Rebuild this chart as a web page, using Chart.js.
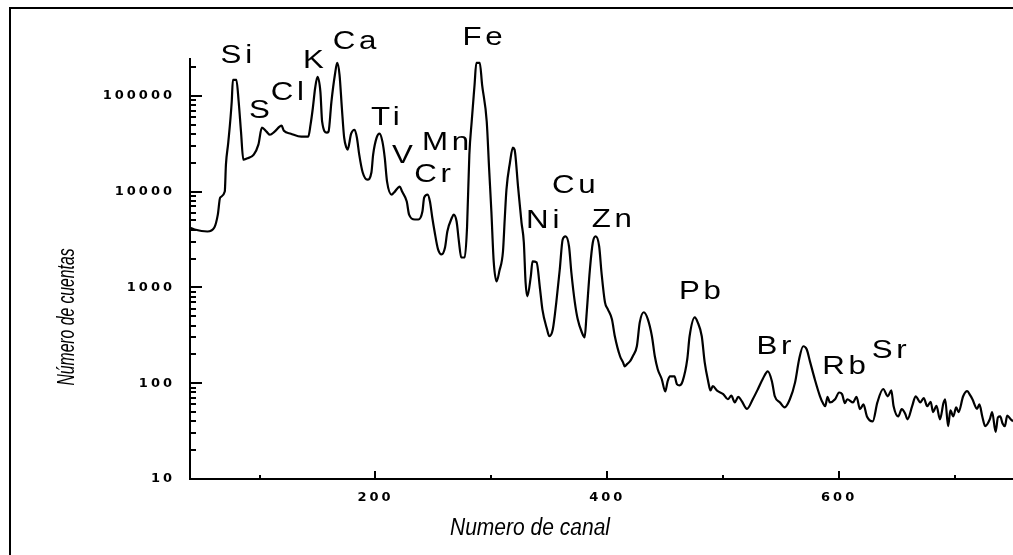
<!DOCTYPE html>
<html>
<head>
<meta charset="utf-8">
<script src="https://cdn.jsdelivr.net/npm/chart.js@4.4.1/dist/chart.umd.min.js"></script>
<style>
  html, body { margin: 0; padding: 0; background: #fff; overflow: hidden; }
  #wrap { width: 1013px; height: 555px; }
</style>
</head>
<body>
<div id="wrap"><canvas id="spectrum" width="1013" height="555"></canvas></div>
<script>
// X-ray spectrum (channel -> counts)
const channels = [
  40, 44, 55, 61, 64, 66, 70, 71, 73, 76, 77, 80, 82, 84, 86, 89, 95, 99, 102, 106,
  109, 113, 119, 121, 127, 136, 142, 144, 146, 148, 150, 152.5, 154, 158, 159.5, 162, 165, 167, 169, 171,
  173, 175, 176, 179, 182, 184, 186, 189, 193, 196.5, 198, 201, 203.5, 206, 208, 210, 214, 216, 221, 223,
  227, 229, 234, 237, 240.5, 242, 245, 247, 249, 251, 254, 257, 260, 262, 266, 267.5, 270, 272, 274, 277,
  279, 281, 283, 285.5, 287, 290, 292, 296, 298, 300, 302, 304.5, 307, 310, 311.5, 313, 316, 318.5, 320, 323,
  326, 328, 329.5, 331, 334, 335.5, 339, 342, 344, 348, 350, 353, 356, 359, 361.5, 364, 367, 369, 372, 374.5,
  378, 380.5, 382, 385, 387.5, 390, 393, 395, 398, 400.5, 404, 406.5, 411, 413.5, 415, 417, 420, 422, 425.5, 428,
  431.5, 435, 438.5, 441, 443.5, 447, 450, 452, 454, 458, 460, 462.5, 465, 469, 471, 475.5, 478, 481.5, 484, 487,
  489, 491, 495, 500, 504, 507, 510, 513, 516, 520.5, 525.5, 530, 534, 538.5, 542, 544.5, 549, 553, 557.5, 562,
  565.5, 569, 572, 575, 579, 583.5, 586, 588, 590, 592, 596.5, 600, 602.5, 605, 607, 612, 615, 618, 621, 624,
  629, 633, 638, 642, 645, 647, 651, 654, 657, 659, 663, 666, 670, 673, 676, 679, 681, 684, 687, 690,
  691.5, 694, 696, 698.5, 701, 703, 707, 710.5, 713, 715, 719, 721, 723.5, 726, 730, 732, 735, 737, 739, 741,
  743, 745, 748, 750
];
const counts = [
  4200, 4020, 3830, 4220, 5750, 8660, 10000, 19100, 32400, 86600, 146800, 146800, 86600, 42200, 21500, 22100, 24300, 30900, 46400, 42200,
  39200, 42200, 48700, 43100, 40200, 37400, 37400, 49900, 75000, 121200, 157800, 110000, 53600, 41200, 42200, 86600, 165600, 220600, 165600, 75000,
  36500, 28700, 27400, 40200, 44200, 36500, 24300, 15800, 13300, 15800, 24300, 36500, 40200, 33200, 22600, 12700, 9300, 9770, 11270, 10000,
  7870, 5750, 5110, 5110, 6190, 8660, 9300, 7870, 5360, 3830, 2490, 2210, 2610, 3830, 5360, 5750, 4870, 3010, 2050, 2050,
  4220, 24300, 53600, 130300, 220600, 220600, 130300, 53600, 17800, 6190, 1870, 1155, 1500, 2370, 5110, 10500, 20000, 28700, 27400, 11270,
  4750, 2940, 1130, 806, 1300, 1870, 1820, 953, 590, 365, 309, 365, 698, 1540, 3160, 3400, 2670, 1430, 698, 464,
  340, 301, 499, 1540, 2940, 3400, 2670, 1430, 698, 590, 464, 309, 191, 166, 150, 158, 172, 191, 243, 431,
  550, 464, 309, 191, 140, 110, 82, 104, 118, 118, 98, 95, 105, 178, 309, 487, 431, 309, 166, 105,
  84, 93, 83, 77, 68, 74, 63, 72, 65, 54, 68, 87, 110, 133, 105, 73, 63, 56, 68, 102,
  178, 243, 226, 166, 110, 73, 62, 57.5, 72, 63, 68, 80, 77, 62, 68, 63, 72, 53.6, 60, 45,
  40, 63, 87, 73, 84, 57.5, 45, 53.6, 48, 42, 57.5, 73, 63, 70, 57.5, 64, 50, 58, 42, 62,
  68, 35.6, 52, 45, 56, 50, 73, 82.5, 75, 68, 54, 60, 45, 35.6, 42, 50, 31, 44, 45, 38,
  35.6, 46, 42, 40
];

// element labels (channel, counts of the label centre)
const elementNames = ["Si", "S", "Cl", "K", "Ca", "Ti", "V", "Mn", "Cr", "Fe", "Cu", "Ni", "Zn", "Pb", "Br", "Rb", "Sr"];
const elementChannels = [80, 99.8, 124, 146.4, 181.9, 208.6, 223.3, 260.5, 249.2, 292.4, 371.1, 344.3, 403.9, 479.9, 543.8, 604.3, 643.2];
const elementCounts = [261000, 69800, 107500, 231800, 365200, 59000, 23200, 32400, 14700, 401700, 11270, 4870, 4990, 887, 237, 147, 215];

const xTickValues = [100, 200, 300, 400, 500, 600, 700];
const xTicksShown = [200, 400, 600];
const yDecades = [10, 100, 1000, 10000, 100000];
const yTickValues = [];
yDecades.forEach(d => { for (let m = 1; m <= 9; m++) if (d * m <= 242000) yTickValues.push(d * m); });

const xTitle = "Numero de canal";
const yTitle = "Número de cuentas";

const tickFont = { family: "DejaVu Sans", size: 13, weight: "bold" };

// draws frame, inside ticks, titles and element labels
const decorations = {
  id: "decorations",
  beforeDraw(chart) {
    chart.ctx.letterSpacing = "3px";
  },
  afterDraw(chart) {
    const { ctx, chartArea } = chart;
    const xs = chart.scales.x, ys = chart.scales.y;
    ctx.save();
    ctx.strokeStyle = "#000";
    ctx.fillStyle = "#000";

    // outer frame
    ctx.lineWidth = 2;
    ctx.strokeRect(10, 8, 1200, 800);

    // inside ticks
    yTickValues.forEach(v => {
      const p = Math.round(ys.getPixelForValue(v));
      const major = yDecades.includes(v);
      ctx.fillRect(chartArea.left, p - 1, major ? 12 : 6, 2);
    });
    xTickValues.forEach(v => {
      const p = Math.round(xs.getPixelForValue(v));
      const major = xTicksShown.includes(v);
      ctx.fillRect(p - 1, chartArea.bottom - (major ? 8 : 4), 2, major ? 8 : 4);
    });

    // axis titles
    ctx.letterSpacing = "0px";
    ctx.textAlign = "center";
    ctx.textBaseline = "middle";
    ctx.font = 'italic 23px "Liberation Sans"';
    let w = ctx.measureText(xTitle).width;
    ctx.save();
    ctx.translate(530, 529);
    ctx.scale(160 / w, 1);
    ctx.fillText(xTitle, 0, 0);
    ctx.restore();

    w = ctx.measureText(yTitle).width;
    ctx.save();
    ctx.translate(68, 317);
    ctx.rotate(-Math.PI / 2);
    ctx.scale(137 / w, 1);
    ctx.fillText(yTitle, 0, 0);
    ctx.restore();

    // element labels
    ctx.font = '25px "Liberation Sans"';
    ctx.letterSpacing = "3px";
    elementNames.forEach((name, i) => {
      const px = xs.getPixelForValue(elementChannels[i]);
      const py = ys.getPixelForValue(elementCounts[i]);
      ctx.save();
      ctx.translate(px, py);
      ctx.scale(1.25, 1);
      ctx.fillText(name, 1.5, 0);
      ctx.restore();
    });
    ctx.restore();
  }
};

new Chart(document.getElementById("spectrum"), {
  type: "line",
  data: {
    datasets: [{
      data: channels.map((c, i) => ({ x: c, y: counts[i] })),
      borderColor: "#000",
      borderWidth: 2.2,
      pointRadius: 0,
      cubicInterpolationMode: "monotone",
      fill: false
    }]
  },
  options: {
    responsive: false,
    animation: false,
    devicePixelRatio: 1,
    layout: { padding: { top: 59, left: 0, right: 0, bottom: 0 } },
    plugins: { legend: { display: false }, tooltip: { enabled: false }, title: { display: false } },
    scales: {
      x: {
        type: "linear",
        min: 40,
        max: 750,
        afterFit: s => { s.height = 76; },
        afterBuildTicks: s => { s.ticks = xTickValues.map(v => ({ value: v })); },
        grid: { display: false, drawTicks: false, tickLength: 0 },
        border: { display: true, color: "#000", width: 2 },
        ticks: {
          autoSkip: false, maxRotation: 0, padding: 11, color: "#000", font: tickFont,
          callback: v => xTicksShown.includes(v) ? String(v) : ""
        }
      },
      y: {
        type: "logarithmic",
        min: 10,
        max: 242000,
        afterFit: s => { s.width = 190; },
        afterBuildTicks: s => { s.ticks = yTickValues.map(v => ({ value: v })); },
        grid: { display: false, drawTicks: false, tickLength: 0 },
        border: { display: true, color: "#000", width: 2 },
        ticks: {
          autoSkip: false, padding: 15, color: "#000", font: tickFont,
          callback: v => yDecades.includes(v) ? String(v) : ""
        }
      }
    }
  },
  plugins: [decorations]
});
</script>
</body>
</html>
